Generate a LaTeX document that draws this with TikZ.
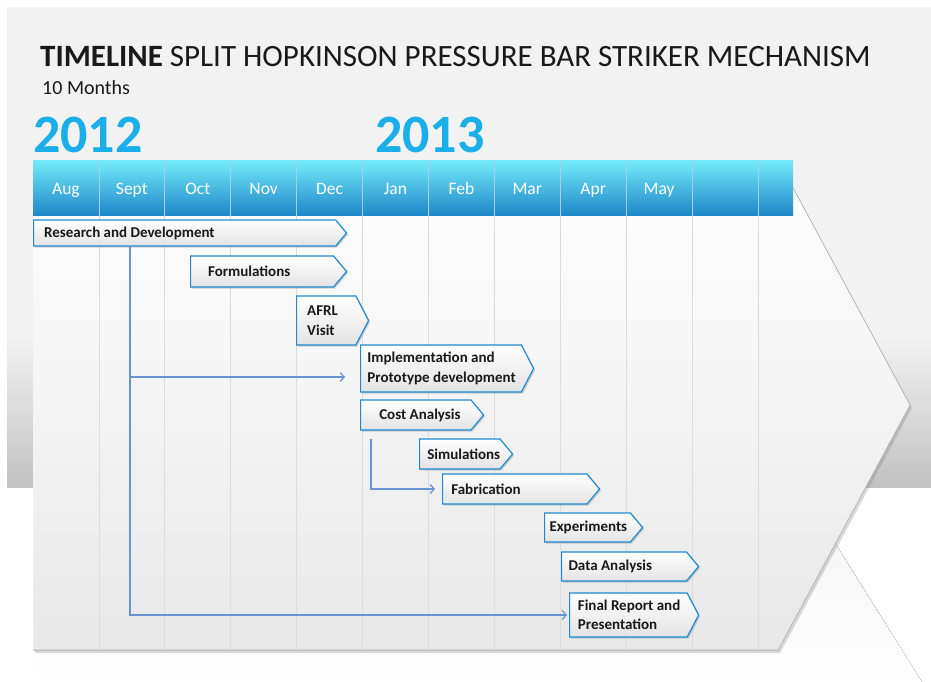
\documentclass[tikz,border=0pt]{standalone}
\usepackage{fontspec}
\setmainfont{Carlito}
\usetikzlibrary{shapes.symbols,shadows,arrows.meta}
\definecolor{panelgray}{HTML}{F2F2F2}
\definecolor{paneldark}{HTML}{C2C2C2}
\definecolor{hdrtop}{HTML}{74ECFA}
\definecolor{hdrblue}{HTML}{1F87C9}
\definecolor{yearblue}{HTML}{1AAEEA}
\definecolor{taskblue}{HTML}{1D8AD2}
\definecolor{linkblue}{HTML}{6A93D4}
\definecolor{gridgray}{HTML}{DCDCDC}
\begin{document}
\begin{tikzpicture}[x=1pt,y=-1pt,
  month/.style={anchor=base,text=white,font=\fontsize{17.5}{20}\selectfont},
  year/.style={anchor=base west,inner sep=0pt,text=yearblue,font=\fontsize{54}{60}\selectfont\bfseries},
  task/.style={signal,signal to=east,signal pointer angle=100,draw=taskblue,line width=1.2pt,
    top color=white,bottom color=gray!22,
    drop shadow={shadow xshift=1.5pt,shadow yshift=-1.5pt,opacity=.35},
    anchor=west,align=flush left,inner xsep=0pt,inner ysep=0pt,text=black!90,
    font=\fontsize{15}{19.5}\selectfont\bfseries},
  task2/.style={task,signal pointer angle=125},
  textindent/.style={execute at begin node={\leftskip=#1pt\relax\hyphenpenalty=10000\relax}},
  link/.style={draw=linkblue,line width=1.2pt,-{Straight Barb[length=4pt,width=9pt]}}]
\useasboundingbox (0,0) rectangle (931,682);
\fill[white] (0,0) rectangle (931,682);
\fill[panelgray] (7,7) rectangle (931,487);
\fill[top color=panelgray,bottom color=paneldark] (7,335) rectangle (931,487);
\fill[top color=gray!10,bottom color=white] (36,487) -- (800,487) -- (922,682) -- (36,682) -- cycle;

\fill[top color=white,bottom color=gray!18,drop shadow={shadow xshift=2pt,shadow yshift=-3pt,opacity=.3}]
  (33,160) -- (778,160) -- (910,405) -- (778,650) -- (33,650) -- cycle;
\draw[gray!55,line width=.6pt] (778,160) -- (910,405) -- (778,650) -- (33,650);

\fill[top color=hdrtop,middle color=hdrblue,bottom color=hdrblue] (33,160) rectangle (793,215);
\foreach \i in {1,...,11} {
  \draw[white!60!hdrblue,line width=.8pt] ({33+65.9*\i},160) -- ({33+65.9*\i},215);
  \draw[gridgray,line width=.8pt] ({33+65.9*\i},215) -- ({33+65.9*\i},650);
}
\foreach \m [count=\i] in {Aug,Sept,Oct,Nov,Dec,Jan,Feb,Mar,Apr,May}
  \node[month] (m\i) at ({33+65.9*(\i-0.5)},194) {\m};

\node[anchor=base west,inner sep=0pt,text=black!90,font=\fontsize{31}{36}\selectfont] (title) at (40,67)
  {\textbf{TIMELINE} SPLIT HOPKINSON PRESSURE BAR STRIKER MECHANISM};
\node[anchor=base west,inner sep=0pt,text=black!90,font=\fontsize{20}{24}\selectfont] (months) at (42,95) {10 Months};
\node[year] (y2012) at (33,153) {2012};
\node[year] (y2013) at (375,153) {2013};

\node[task,textindent=9,minimum width=313pt,minimum height=26pt,text width=299pt] (rd) at (33,233) {Research and Development};
\node[task,textindent=17,minimum width=156pt,minimum height=31pt,text width=142pt] (form) at (190,271.5) {Formulations};
\node[task2,textindent=10,minimum width=72pt,minimum height=49pt,text width=58pt] (afrl) at (296,320.5) {AFRL\\Visit};
\node[task2,textindent=6,minimum width=173pt,minimum height=47pt,text width=159pt] (impl) at (360,368.5) {Implementation~and\\Prototype~development};
\node[task,textindent=18,minimum width=123pt,minimum height=30pt,text width=109pt] (cost) at (360,415) {Cost Analysis};
\node[task,textindent=7,minimum width=93pt,minimum height=30pt,text width=79pt] (sim) at (419,454) {Simulations};
\node[task,textindent=8,minimum width=157pt,minimum height=30pt,text width=143pt] (fab) at (442,489) {Fabrication};
\node[task,textindent=4,minimum width=98pt,minimum height=29pt,text width=84pt] (exp) at (544,527.5) {Experiments};
\node[task,textindent=6,minimum width=137pt,minimum height=29pt,text width=123pt] (data) at (561,566.5) {Data Analysis};
\node[task2,textindent=7,minimum width=129pt,minimum height=44pt,text width=115pt] (fin) at (569,615) {Final~Report~and\\Presentation};

\coordinate (trunk) at ([xshift=97pt,yshift=-13pt]rd.west);
\draw[link] (trunk) |- ([xshift=-2pt]fin.west);
\draw[link] ([yshift=-8.5pt]trunk |- impl.west) -- ([xshift=-15pt,yshift=-8.5pt]impl.west);
\draw[link] ([xshift=11pt,yshift=-24pt]cost.west) |- ([xshift=-7pt]fab.west);
\end{tikzpicture}
\end{document}
